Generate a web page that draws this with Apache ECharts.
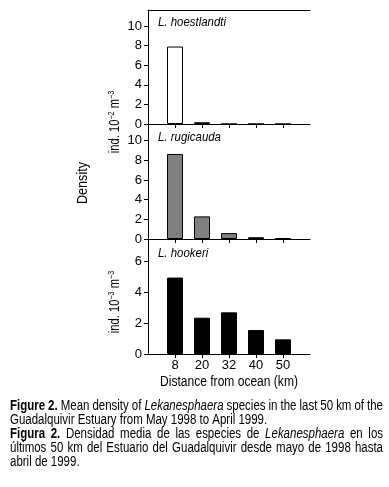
<!DOCTYPE html>
<html>
<head>
<meta charset="utf-8">
<script src="https://cdn.jsdelivr.net/npm/echarts@6/dist/echarts.min.js"></script>
<style>
  html, body { margin: 0; padding: 0; background: #fff; }
  #chart { width: 389px; height: 487px; }
</style>
</head>
<body>
<div id="chart"></div>
<script>
// distances from the ocean (km), one bar per station
const distances = ['8', '20', '32', '40', '50'];
// mean density per species
const hoestlandti = [7.9, 0.18, 0, 0, 0];      // ind. 10^-2 m^-3
const rugicauda = [8.65, 2.3, 0.6, 0.18, 0.08]; // ind. 10^-2 m^-3
const hookeri = [4.95, 2.35, 2.7, 1.55, 0.95];  // ind. 10^-3 m^-3
const upperTicks = [0, 2, 4, 6, 8, 10];
const lowerTicks = [0, 2, 4, 6];

// caption, as [style, text] pieces: r regular, b bold, i italic
const caption = [
    { justify: true, parts: [['b', 'Figure 2.'], ['r', 'Mean density of'], ['i', 'Lekanesphaera'], ['r', 'species in the last 50 km of the']] },
    { justify: false, parts: [['r', 'Guadalquivir Estuary from May 1998 to April 1999.']] },
    { justify: true, parts: [['b', 'Figura 2.'], ['r', 'Densidad media de las especies de'], ['i', 'Lekanesphaera'], ['r', 'en los']] },
    { justify: true, parts: [['r', 'últimos 50 km del Estuario del Guadalquivir desde mayo de 1998 hasta']] },
    { justify: false, parts: [['r', 'abril de 1999.']] }
];

const FONT = "'Liberation Sans', Arial, sans-serif";
const NARROW = 0.82; // squeeze to look like the narrow face of the original
const slots = distances.map((d, i) => i + 1);

window.addEventListener('DOMContentLoaded', () => {
    const chart = echarts.init(document.getElementById('chart'), null, { renderer: 'canvas' });

    const grids = [
        { left: 148, top: 10, width: 162, height: 114 },
        { left: 148, top: 124, width: 162, height: 115 },
        { left: 148, top: 239, width: 162, height: 115 }
    ];

    function xAxis(idx, showLabels) {
        return {
            type: 'value', gridIndex: idx, min: 0, max: distances.length + 1, interval: 1,
            axisLine: { show: true, onZero: false, lineStyle: { color: '#000', width: 1 } },
            axisTick: { show: true, inside: false, length: 4, customValues: slots, lineStyle: { color: '#000' } },
            axisLabel: {
                show: showLabels, customValues: slots, margin: 5,
                fontFamily: FONT, fontSize: 13, color: '#000',
                formatter: v => distances[v - 1] || ''
            },
            splitLine: { show: false }
        };
    }
    function yAxis(idx, max, ticks) {
        return {
            type: 'value', gridIndex: idx, min: 0, max: max,
            axisLine: { show: true, lineStyle: { color: '#000', width: 1 } },
            axisTick: { show: true, inside: false, length: 4, customValues: ticks, lineStyle: { color: '#000' } },
            axisLabel: { customValues: ticks, margin: 6, fontFamily: FONT, fontSize: 13, color: '#000' },
            splitLine: { show: false }
        };
    }
    function bars(idx, values, fill) {
        return {
            type: 'bar', xAxisIndex: idx, yAxisIndex: idx,
            data: values.map((v, i) => [slots[i], v]),
            barWidth: 16,
            itemStyle: { color: fill, borderColor: '#000', borderWidth: 1 },
            silent: true
        };
    }
    function panelTitle(text, y) {
        return {
            type: 'text', x: 158, y: y, scaleX: 0.88,
            style: { text: text, fontFamily: FONT, fontStyle: 'italic', fontSize: 13, fill: '#000', verticalAlign: 'middle' }
        };
    }
    const unitRich = {
        n: { fontFamily: FONT, fontSize: 14, fill: '#000' },
        s: { fontFamily: FONT, fontSize: 9, fill: '#000', padding: [0, 0, 7, 0] }
    };
    function unitLabel(exp, y) {
        return {
            type: 'text', x: 115, y: y, rotation: Math.PI / 2, scaleX: 0.8,
            style: {
                text: '{n|ind. 10}{s|' + exp + '}{n| m}{s|−3}', rich: unitRich,
                align: 'center', verticalAlign: 'middle'
            }
        };
    }

    // caption words, laid out one by one so the full lines can be justified
    const ctx = document.createElement('canvas').getContext('2d');
    const CAP_SIZE = 14, CAP_LEFT = 10, CAP_RIGHT = 383;
    const captionY = [406, 420, 434, 448, 462];
    function capFont(st) {
        return (st === 'i' ? 'italic ' : '') + (st === 'b' ? 'bold ' : '') + CAP_SIZE + 'px ' + FONT;
    }
    const captionEls = [];
    caption.forEach((line, li) => {
        const words = [];
        line.parts.forEach(([st, txt]) => txt.split(' ').forEach(w => words.push({ st, w })));
        words.forEach(o => { ctx.font = capFont(o.st); o.width = ctx.measureText(o.w).width * NARROW; });
        ctx.font = capFont('r');
        const space = ctx.measureText(' ').width * NARROW;
        const total = words.reduce((s, o) => s + o.width, 0);
        const gap = line.justify ? (CAP_RIGHT - CAP_LEFT - total) / (words.length - 1) : space;
        let x = CAP_LEFT;
        words.forEach(o => {
            captionEls.push({
                type: 'text', x: x, y: captionY[li], scaleX: NARROW,
                style: {
                    text: o.w, fontFamily: FONT, fontSize: CAP_SIZE, fill: '#000',
                    fontWeight: o.st === 'b' ? 'bold' : 'normal',
                    fontStyle: o.st === 'i' ? 'italic' : 'normal',
                    verticalAlign: 'middle'
                }
            });
            x += o.width + gap;
        });
    });

    chart.setOption({
        backgroundColor: '#fff',
        animation: false,
        grid: grids,
        xAxis: [
            xAxis(0, false), xAxis(1, false), xAxis(2, true),
            // top frame line of the first panel
            Object.assign(xAxis(0, false), { position: 'top', axisTick: { show: false } })
        ],
        yAxis: [yAxis(0, 11.63, upperTicks), yAxis(1, 11.7, upperTicks), yAxis(2, 7.45, lowerTicks)],
        series: [
            bars(0, hoestlandti, '#fff'),
            bars(1, rugicauda, '#808080'),
            bars(2, hookeri, '#000')
        ],
        graphic: [
            panelTitle('L. hoestlandti', 22),
            panelTitle('L. rugicauda', 137),
            panelTitle('L. hookeri', 253),
            unitLabel('−2', 122),
            unitLabel('−3', 302),
            {
                type: 'text', x: 83, y: 183, rotation: Math.PI / 2, scaleX: 0.84,
                style: { text: 'Density', fontFamily: FONT, fontSize: 15, fill: '#000', align: 'center', verticalAlign: 'middle' }
            },
            {
                type: 'text', x: 229, y: 382, scaleX: 0.86,
                style: { text: 'Distance from ocean (km)', fontFamily: FONT, fontSize: 14, fill: '#000', align: 'center', verticalAlign: 'middle' }
            }
        ].concat(captionEls)
    });
});
</script>
</body>
</html>
